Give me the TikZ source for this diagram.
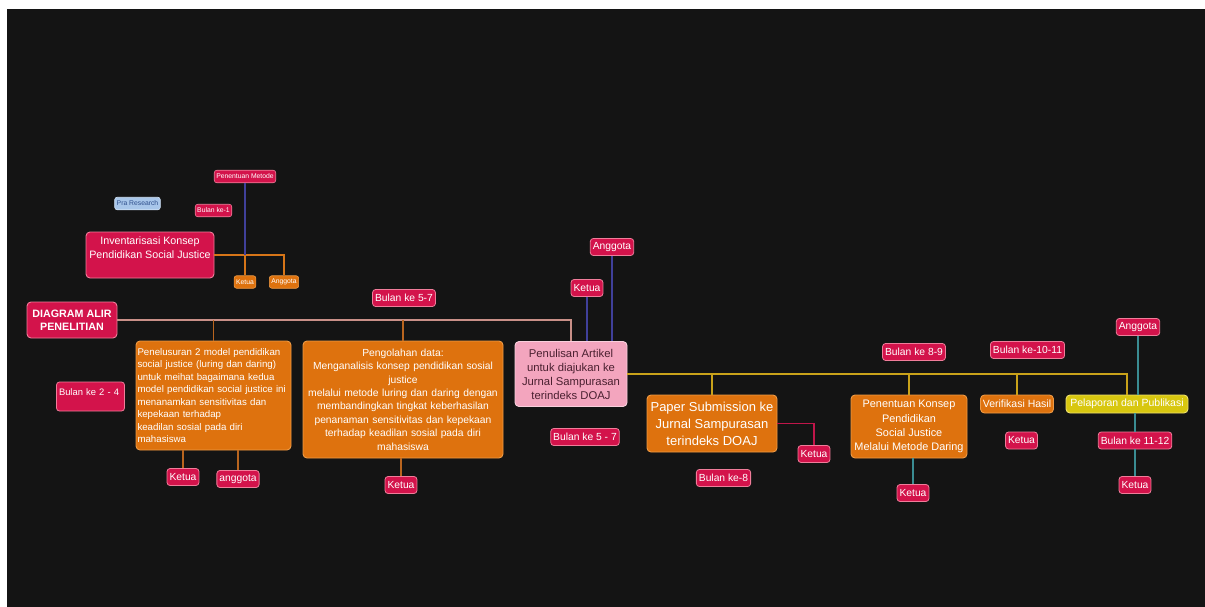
\documentclass[tikz,border=0pt]{standalone}
\usepackage{fontspec}
\setmainfont{Liberation Sans}
\definecolor{bgc}{HTML}{141414}
\definecolor{tagred}{HTML}{D3134B}
\definecolor{tagborder}{HTML}{F07D9A}
\definecolor{orangefill}{HTML}{DE720E}
\definecolor{oborder}{HTML}{EE9A45}
\definecolor{pinkfill}{HTML}{F3A5BE}
\definecolor{pinkborder}{HTML}{F9CFDC}
\definecolor{pinktext}{HTML}{4A2030}
\definecolor{yellowfill}{HTML}{D8C70F}
\definecolor{yborder}{HTML}{EEE070}
\definecolor{lblue}{HTML}{A8C6EA}
\definecolor{lblueborder}{HTML}{D0E2F6}
\definecolor{lbluetext}{HTML}{2E4E8C}
\definecolor{toplinec}{HTML}{C99088}
\definecolor{brlinec}{HTML}{B9651F}
\definecolor{ylinec}{HTML}{C9A21A}
\definecolor{blinec}{HTML}{40409A}
\definecolor{tealc}{HTML}{3A8C92}
\definecolor{redlinec}{HTML}{C0164A}
\definecolor{olinec}{HTML}{D67518}
\begin{document}
\begin{tikzpicture}[x=1pt,y=-1pt,
  tag/.style={draw=tagborder, fill=tagred, line width=0.8pt, rounded corners=3pt, text=white,
    font=\fontsize{10.3}{12}\selectfont, inner xsep=2.5pt, inner ysep=0pt, minimum height=17pt},
  tinytag/.style={draw=tagborder, fill=tagred, line width=0.6pt, rounded corners=2.5pt, text=white,
    font=\fontsize{6.8}{8}\selectfont, inner xsep=2pt, inner ysep=0pt, minimum height=12.5pt},
  tinyo/.style={tinytag, draw=oborder, fill=orangefill},
  lbtag/.style={tinytag, draw=lblueborder, fill=lblue, text=lbluetext},
  redbox/.style={draw=tagborder, fill=tagred, line width=0.9pt, rounded corners=4pt, text=white},
  obox/.style={draw=oborder, fill=orangefill, line width=0.9pt, rounded corners=4pt, text=white},
  pbox/.style={draw=pinkborder, fill=pinkfill, line width=0.9pt, rounded corners=4pt, text=pinktext},
  ybox/.style={draw=yborder, fill=yellowfill, line width=0.9pt, rounded corners=4pt, text=white},
  conn/.style={line width=1.2pt},
]
\useasboundingbox (0,0) rectangle (1205,607);
\fill[white] (0,0) rectangle (1205,607);
\fill[bgc] (7,9) rectangle (1205,607);

% top-left cluster
\node[tinytag] (pm) at (245,176.5) {Penentuan Metode};
\node[lbtag] (pra) at (137.5,203.5) {Pra Research};
\node[tinytag] (b1) at (213.5,210.5) {Bulan ke-1};
\node[redbox, inner xsep=2pt, inner ysep=5pt, font=\fontsize{10.7}{14}\selectfont] (inv) at (150,255)
  {\parbox[t][36pt][t]{124pt}{\centering Inventarisasi Konsep\\Pendidikan Social Justice}};
\node[tinyo] (k0) at (245,282) {Ketua};
\node[tinyo] (a0) at (284,282) {Anggota};

% main boxes
\node[redbox, font=\bfseries\fontsize{10.7}{13}\selectfont, align=center, minimum width=90pt, minimum height=36pt, inner sep=2pt] (dia) at (72,320) {DIAGRAM ALIR\\PENELITIAN};
\node[obox, font=\fontsize{9.7}{12.5}\selectfont, align=left, text width=152pt, inner xsep=1.5pt, minimum height=109pt] (pen) at (213.5,395.5)
  {Penelusuran 2 model pendidikan\\social justice (luring dan daring)\\untuk meihat bagaimana kedua\\model pendidikan social justice ini\\menanamkan sensitivitas dan\\kepekaan terhadap\\keadilan sosial pada diri\\mahasiswa};
\node[obox, font=\fontsize{10.3}{13.4}\selectfont, align=center, text width=196pt, inner xsep=2pt, minimum height=117pt] (peng) at (403,399.5)
  {Pengolahan data:\\Menganalisis konsep pendidikan sosial\\justice\\melalui metode luring dan daring dengan\\membandingkan tingkat keberhasilan\\penanaman sensitivitas dan kepekaan\\terhadap keadilan sosial pada diri\\mahasiswa};
\node[pbox, font=\fontsize{11.3}{14}\selectfont, align=center, minimum width=112pt, minimum height=65pt] (pnl) at (571,374)
  {Penulisan Artikel\\untuk diajukan ke\\Jurnal Sampurasan\\terindeks DOAJ};
\node[obox, font=\fontsize{13}{17}\selectfont, align=center, minimum width=130pt, minimum height=57pt, inner xsep=1pt] (pap) at (712,423.5)
  {Paper Submission ke\\Jurnal Sampurasan\\terindeks DOAJ};
\node[obox, font=\fontsize{10.9}{14.2}\selectfont, align=center, minimum width=116pt, minimum height=63pt, inner xsep=1pt] (pk) at (909,426.5)
  {Penentuan Konsep\\Pendidikan\\Social Justice\\Melalui Metode Daring};
\node[obox, font=\fontsize{10.5}{12}\selectfont, minimum width=73pt, minimum height=18pt, inner sep=1pt] (ver) at (1017,404) {Verifikasi Hasil};
\node[ybox, font=\fontsize{10.5}{12}\selectfont, minimum width=122pt, minimum height=18pt, inner sep=1pt] (pel) at (1127,404) {Pelaporan dan Publikasi};

% tags
\node[tag, font=\fontsize{9.4}{11}\selectfont, text width=63pt, align=left, text height=13.5pt, text depth=15.5pt] (bk24) at (90.5,396.5) {Bulan ke 2 - 4};
\node[tag] (bk57) at (404,298) {Bulan ke 5-7};
\node[tag] (k1) at (183,477) {Ketua};
\node[tag] (a1) at (238,479) {anggota};
\node[tag] (k2) at (401,485) {Ketua};
\node[tag] (k3) at (587,288) {Ketua};
\node[tag] (a3) at (612,247) {Anggota};
\node[tag] (bk57b) at (585,437) {Bulan ke 5 - 7};
\node[tag] (bk8) at (723.5,478) {Bulan ke-8};
\node[tag] (k4) at (814,454) {Ketua};
\node[tag] (bk89) at (914,352) {Bulan ke 8-9};
\node[tag] (k5) at (913,493) {Ketua};
\node[tag] (bk1011) at (1027.5,350) {Bulan ke-10-11};
\node[tag] (k6) at (1021.5,440.5) {Ketua};
\node[tag] (a7) at (1138,327) {Anggota};
\node[tag] (bk1112) at (1135,440.5) {Bulan ke 11-12};
\node[tag] (k7) at (1135,485) {Ketua};

% connectors
\draw[conn, olinec] (inv.east) -| (a0.north);
\draw[conn, olinec] (k0.north) -- (k0.north |- inv.east);
\draw[conn, blinec] (pm.south) -- (pm.south |- inv.east);

\draw[conn, toplinec] (dia.east) -| (pnl.north);
\draw[conn, brlinec] (pen.north) -- (pen.north |- dia.east);
\draw[conn, brlinec] (peng.north) -- (peng.north |- dia.east);
\draw[conn, brlinec] (k1.north) -- (k1.north |- pen.south);
\draw[conn, brlinec] (a1.north) -- (a1.north |- pen.south);
\draw[conn, brlinec] (k2.north) -- (k2.north |- peng.south);
\draw[conn, blinec] (k3.south) -- (k3.south |- pnl.north);
\draw[conn, blinec] (a3.south) -- (a3.south |- pnl.north);

\draw[conn, ylinec] (pnl.east) -| (pel.north);
\draw[conn, ylinec] (pap.north) -- (pap.north |- pnl.east);
\draw[conn, ylinec] (pk.north) -- (pk.north |- pnl.east);
\draw[conn, ylinec] (ver.north) -- (ver.north |- pnl.east);
\draw[conn, redlinec] (pap.east) -| (k4.north);
\draw[conn, tealc] (k5.north) -- (k5.north |- pk.south);
\draw[conn, tealc] (a7.south) -- (a7.south |- pel.north);
\draw[conn, tealc] (bk1112.north) -- (bk1112.north |- pel.south);
\draw[conn, tealc] (bk1112.south) -- (k7.north);
\end{tikzpicture}
\end{document}
